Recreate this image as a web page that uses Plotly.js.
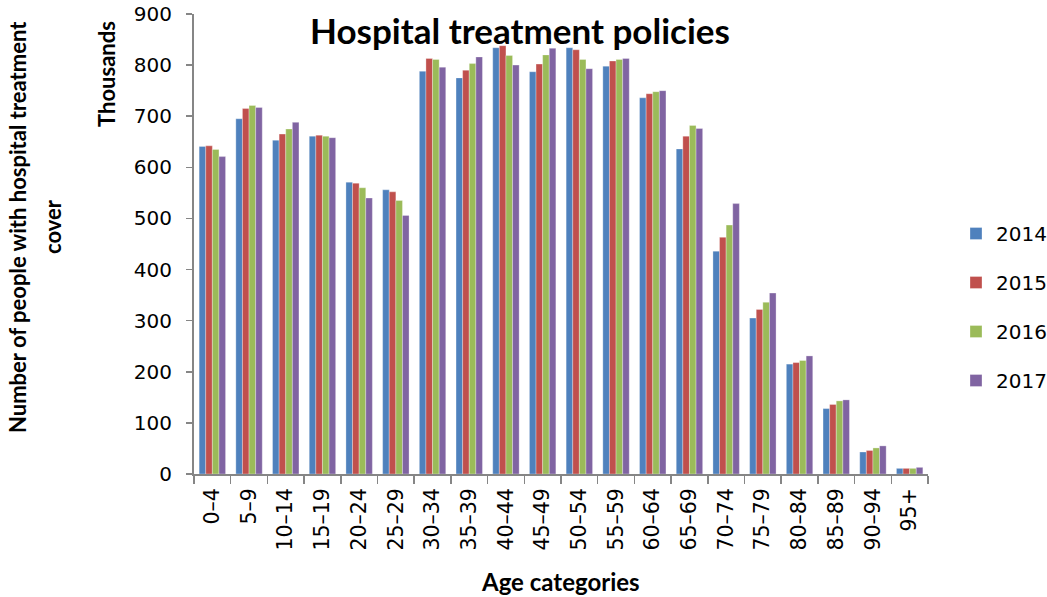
<!DOCTYPE html>
<html>
<head>
<meta charset="utf-8">
<script src="https://cdn.plot.ly/plotly-3.0.1.min.js"></script>
<style>html,body{margin:0;padding:0;background:#fff;}#chart{width:1047px;height:597px;}</style>
</head>
<body>
<div id="chart"></div>
<script>
const categories = ["0–4","5–9","10–14","15–19","20–24","25–29","30–34","35–39","40–44","45–49","50–54","55–59","60–64","65–69","70–74","75–79","80–84","85–89","90–94","95+"];
const seriesNames = ["2014","2015","2016","2017"];
const v2014 = [641,695,653,661,571,556,788,775,834,787,834,798,736,636,436,305,215,128,43,11];
const v2015 = [642,715,665,663,569,552,813,790,838,802,830,808,744,661,463,322,218,136,46,11];
const v2016 = [635,721,675,661,560,535,811,803,819,820,811,811,748,682,487,336,222,143,51,11];
const v2017 = [621,717,688,658,540,506,796,816,800,833,793,813,750,676,529,354,231,145,55,13];
const yTicks = [0,100,200,300,400,500,600,700,800,900];
const colors = ["#4F81BD","#C0504D","#9BBB59","#8064A2"];
const allValues = [v2014,v2015,v2016,v2017];

const traces = allValues.map((vals,i)=>({
  type:"bar", name:seriesNames[i], x:categories, y:vals,
  marker:{color:colors[i], line:{color:"rgba(255,255,255,0.5)", width:0.6}},
  legendgroup:"g"+i
}));

const boldFont = "Lato, 'Open Sans', sans-serif";
const tickFont = "DejaVu Sans";
const layout = {
  width:1047, height:597,
  margin:{l:194, r:119, t:14, b:123, autoexpand:false},
  paper_bgcolor:"#fff", plot_bgcolor:"#fff",
  barmode:"group", bargap:0.28, bargroupgap:0,
  showlegend:true,
  legend:{xref:"container", yref:"container", x:956/1047, xanchor:"left", y:1-214/597, yanchor:"top",
    traceorder:"grouped", tracegroupgap:20,
    font:{family:tickFont, size:20, color:"#000"}, itemwidth:30},
  xaxis:{type:"category", showline:true, linecolor:"#868686", linewidth:2,
    ticks:"outside", tickson:"boundaries", ticklen:8, tickcolor:"#868686", tickwidth:1.5,
    tickangle:-90, ticklabelstandoff:4, tickfont:{family:tickFont, size:20.5, color:"#000"},
    showgrid:false, zeroline:false, automargin:false},
  yaxis:{range:[0,900], tickvals:yTicks, ticktext:yTicks.map(String), showline:true, linecolor:"#868686", linewidth:2,
    ticks:"outside", ticklen:6, tickcolor:"#868686", tickwidth:1.5, ticklabelstandoff:10,
    tickfont:{family:tickFont, size:20, color:"#000"}, showgrid:false, zeroline:false, automargin:false},
  annotations:[
    {text:"<b>Hospital treatment policies</b>", xref:"paper", yref:"paper", x:(520-194)/734, y:(474-30)/460, xanchor:"center", yanchor:"middle", showarrow:false, font:{family:boldFont, size:35, color:"#000"}},
    {text:"<b>Age categories</b>", xref:"paper", yref:"paper", x:(560-194)/734, y:(474-581)/460, xanchor:"center", yanchor:"middle", showarrow:false, font:{family:boldFont, size:24, color:"#000"}},
    {text:"<b>Thousands</b>", xref:"paper", yref:"paper", x:(106-194)/734, y:(474-74)/460, xanchor:"center", yanchor:"middle", textangle:-90, showarrow:false, font:{family:boldFont, size:22, color:"#000"}},
    {text:"<b>Number of people with hospital treatment</b>", xref:"paper", yref:"paper", x:(17-194)/734, y:(474-227)/460, xanchor:"center", yanchor:"middle", textangle:-90, showarrow:false, font:{family:boldFont, size:22, color:"#000"}},
    {text:"<b>cover</b>", xref:"paper", yref:"paper", x:(52-194)/734, y:(474-227)/460, xanchor:"center", yanchor:"middle", textangle:-90, showarrow:false, font:{family:boldFont, size:22, color:"#000"}}
  ]
};
Plotly.newPlot("chart", traces, layout, {displayModeBar:false, staticPlot:true});
</script>
</body>
</html>
